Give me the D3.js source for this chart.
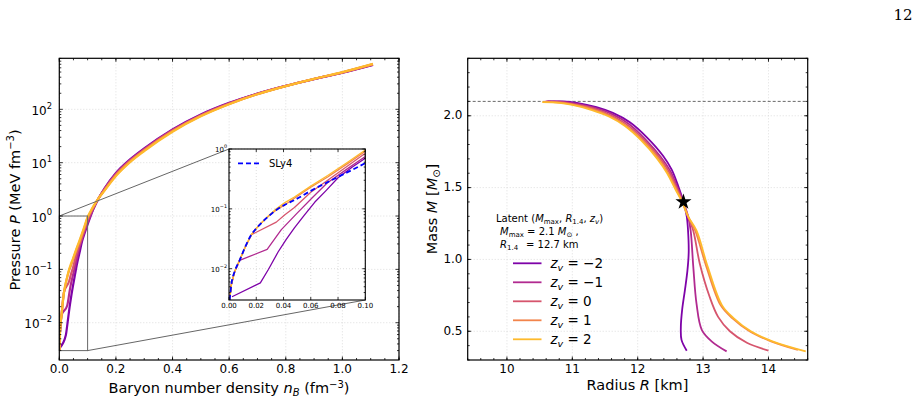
<!DOCTYPE html>
<html>
<head>
<meta charset="utf-8">
<script src="https://cdn.jsdelivr.net/npm/d3@7"></script>
<style>
  html, body { margin: 0; padding: 0; background: #fff; }
  svg { display: block; font-family: "DejaVu Sans", sans-serif; }
  .tick-lab { font-size: 12px; fill: #000; }
  .ax-lab { font-size: 14.5px; fill: #000; }
  .in-lab { font-size: 7px; fill: #000; }
</style>
</head>
<body>
<svg id="chart" width="921" height="402"></svg>
<script>
// ---- data ----
const zValues = [-2, -1, 0, 1, 2];
const plasmaStops = [0.25, 0.4, 0.55, 0.7, 0.85];

// SLy4 crust (inset reference), [n_B, P]
const sly4 = [[0.0005, 0.003], [0.0017, 0.0054], [0.0042, 0.009], [0.0078, 0.0138], [0.0115, 0.022],
  [0.0164, 0.037], [0.02, 0.047], [0.0237, 0.058], [0.029, 0.075], [0.0347, 0.096], [0.041, 0.117],
  [0.048, 0.14], [0.06, 0.2], [0.0724, 0.28], [0.087, 0.41], [0.1, 0.58]];

// EOS curves P(n_B) per z_v
const eosZm2 = [[0.0022, 0.0034], [0.023, 0.0058], [0.029, 0.0098], [0.036, 0.019], [0.042, 0.031],
  [0.048, 0.048], [0.055, 0.077], [0.063, 0.13], [0.071, 0.2], [0.08, 0.33], [0.09, 0.49], [0.1, 0.70],
  [0.11, 0.98], [0.12, 1.33], [0.14, 2.2], [0.16, 3.3], [0.2, 6.4], [0.25, 11.5], [0.3, 18.5], [0.4, 42],
  [0.5, 80], [0.6, 132], [0.7, 197], [0.8, 275], [0.9, 368], [1.0, 485], [1.108, 680]];
const eosZm1 = sly4.filter(d => d[0] <= 0.0078).concat([[0.028, 0.021], [0.0384, 0.045], [0.05, 0.085],
  [0.0607, 0.15], [0.072, 0.27], [0.087, 0.47], [0.1, 0.75], [0.11, 1.02], [0.12, 1.36], [0.14, 2.2],
  [0.16, 3.25], [0.2, 6.2], [0.25, 11.2], [0.3, 18], [0.4, 41], [0.5, 78.5], [0.6, 130], [0.7, 196],
  [0.8, 275], [0.9, 370], [1.0, 488], [1.108, 688]]);
const eosZ0 = sly4.filter(d => d[0] <= 0.0164).concat([[0.0347, 0.06], [0.041, 0.08], [0.048, 0.105],
  [0.06, 0.19], [0.0724, 0.30], [0.087, 0.52], [0.1, 0.85], [0.11, 1.12], [0.12, 1.42], [0.14, 2.2],
  [0.16, 3.15], [0.2, 6.0], [0.25, 10.9], [0.3, 17.5], [0.4, 40], [0.5, 77], [0.6, 128], [0.7, 195],
  [0.8, 274], [0.9, 371], [1.0, 491], [1.108, 695]]);
const eosZ1 = sly4.filter(d => d[0] <= 0.0347).concat([[0.04, 0.113], [0.048, 0.15], [0.06, 0.23],
  [0.0724, 0.34], [0.087, 0.57], [0.1, 0.92], [0.11, 1.18], [0.12, 1.48], [0.14, 2.2], [0.16, 3.05],
  [0.2, 5.8], [0.25, 10.5], [0.3, 17], [0.4, 39], [0.5, 75.5], [0.6, 126], [0.7, 193], [0.8, 273],
  [0.9, 372], [1.0, 494], [1.108, 702]]);
const eosZ2 = sly4.filter(d => d[0] <= 0.0237).concat([[0.029, 0.077], [0.0347, 0.1], [0.041, 0.127],
  [0.048, 0.158], [0.06, 0.24], [0.0724, 0.36], [0.087, 0.6], [0.1, 0.96], [0.11, 1.22], [0.12, 1.52],
  [0.14, 2.2], [0.16, 3.0], [0.2, 5.6], [0.25, 10.2], [0.3, 16.5], [0.4, 38], [0.5, 74], [0.6, 125],
  [0.7, 192], [0.8, 273], [0.9, 373], [1.0, 497], [1.108, 710]]);
const eosCurves = [eosZm2, eosZm1, eosZ0, eosZ1, eosZ2];

// mass-radius curves [R km, M Msun] per z_v
const mrZm2 = [[10.62, 2.10], [10.85, 2.10], [11.07, 2.09], [11.37, 2.06], [11.62, 2.02], [11.88, 1.955],
  [12.14, 1.85], [12.39, 1.72], [12.52, 1.625], [12.62, 1.51], [12.70, 1.40], [12.75, 1.30], [12.77, 1.20],
  [12.78, 1.05], [12.76, 0.92], [12.72, 0.78], [12.68, 0.65], [12.66, 0.53], [12.67, 0.44], [12.75, 0.365]];
const mrZm1 = [[10.60, 2.10], [10.83, 2.098], [11.05, 2.085], [11.35, 2.055], [11.60, 2.013], [11.86, 1.945],
  [12.11, 1.84], [12.36, 1.71], [12.50, 1.615], [12.61, 1.50], [12.70, 1.40], [12.77, 1.30], [12.81, 1.20],
  [12.85, 0.95], [12.90, 0.69], [12.98, 0.51], [13.13, 0.43], [13.36, 0.36]];
const mrZ0 = [[10.58, 2.098], [10.82, 2.095], [11.03, 2.08], [11.33, 2.05], [11.58, 2.005], [11.83, 1.94],
  [12.09, 1.835], [12.34, 1.705], [12.48, 1.61], [12.60, 1.495], [12.69, 1.40], [12.77, 1.30], [12.85, 1.20],
  [12.95, 0.97], [13.10, 0.74], [13.23, 0.60], [13.41, 0.50], [13.67, 0.42], [14.0, 0.365]];
const mrZ1 = [[10.56, 2.096], [10.81, 2.092], [11.02, 2.077], [11.31, 2.045], [11.57, 2.0], [11.81, 1.935],
  [12.07, 1.832], [12.32, 1.702], [12.46, 1.605], [12.59, 1.49], [12.68, 1.40], [12.77, 1.30], [12.88, 1.20],
  [13.05, 0.95], [13.27, 0.68], [13.45, 0.59], [13.71, 0.50], [14.04, 0.43], [14.45, 0.37]];
const mrZ2 = [[10.54, 2.095], [10.80, 2.09], [11.0, 2.075], [11.30, 2.04], [11.56, 1.995], [11.80, 1.93],
  [12.05, 1.83], [12.30, 1.70], [12.45, 1.60], [12.58, 1.485], [12.68, 1.40], [12.77, 1.30], [12.90, 1.20],
  [13.07, 0.95], [13.29, 0.68], [13.47, 0.59], [13.73, 0.50], [14.06, 0.43], [14.57, 0.36]];
const mrCurves = [mrZm2, mrZm1, mrZ0, mrZ1, mrZ2];

const mMax = 2.1;
const star = [12.7, 1.4];

const nTicks = [0, 0.2, 0.4, 0.6, 0.8, 1.0, 1.2];
const pDecades = [-2, -1, 0, 1, 2];
const insetNTicks = [0, 0.02, 0.04, 0.06, 0.08, 0.10];
const insetDecades = [-2, -1, 0];
const rTicks = [10, 11, 12, 13, 14];
const mTicks = [0.5, 1.0, 1.5, 2.0];

const colors = plasmaStops.map(t => d3.interpolatePlasma(t));

// ---- layout ----
const svg = d3.select("#chart");
const L = { x0: 59.3, x1: 399, y0: 58.3, y1: 360 };
const IN = { x0: 229, x1: 365.3, y0: 149, y1: 300 };
const R = { x0: 467.7, x1: 807.7, y0: 58.3, y1: 360 };

const gridStyle = s => s.attr("stroke", "#d6d6d6").attr("stroke-width", 0.8).attr("stroke-dasharray", "1,2");

function ticksIn(g, box, xs, ys, len) {
  xs.forEach(x => {
    g.append("line").attr("x1", x).attr("x2", x).attr("y1", box.y1).attr("y2", box.y1 - len);
    g.append("line").attr("x1", x).attr("x2", x).attr("y1", box.y0).attr("y2", box.y0 + len);
  });
  ys.forEach(y => {
    g.append("line").attr("y1", y).attr("y2", y).attr("x1", box.x0).attr("x2", box.x0 + len);
    g.append("line").attr("y1", y).attr("y2", y).attr("x1", box.x1).attr("x2", box.x1 - len);
  });
  g.selectAll("line").attr("stroke", "#000").attr("stroke-width", 0.8);
}

function powLabel(g, x, y, exp, size, cls) {
  const t = g.append("text").attr("class", cls).attr("x", x).attr("y", y)
    .attr("text-anchor", "end").attr("dominant-baseline", "middle");
  t.append("tspan").text("10");
  t.append("tspan").attr("dy", -size * 0.42).style("font-size", (size * 0.7) + "px")
    .text(exp < 0 ? "\u2212" + (-exp) : exp);
}

function clip(id, box) {
  svg.append("clipPath").attr("id", id).append("rect")
    .attr("x", box.x0).attr("y", box.y0).attr("width", box.x1 - box.x0).attr("height", box.y1 - box.y0);
}
clip("clipL", L); clip("clipIn", IN); clip("clipR", R);

// ================= left panel: EOS =================
const xL = d3.scaleLinear().domain([0, 1.2]).range([L.x0, L.x1]);
const yL = d3.scaleLog().domain([0.002, 905]).range([L.y1, L.y0]);
const gL = svg.append("g");

nTicks.forEach(v => gL.append("line").call(gridStyle)
  .attr("x1", xL(v)).attr("x2", xL(v)).attr("y1", L.y0).attr("y2", L.y1));
pDecades.forEach(e => gL.append("line").call(gridStyle)
  .attr("x1", L.x0).attr("x2", L.x1).attr("y1", yL(10 ** e)).attr("y2", yL(10 ** e)));

const lineL = d3.line().x(d => xL(d[0])).y(d => yL(d[1])).curve(d3.curveMonotoneX);
eosCurves.forEach((c, i) => gL.append("path").attr("d", lineL(c)).attr("clip-path", "url(#clipL)")
  .attr("fill", "none").attr("stroke", colors[i]).attr("stroke-width", 2.2).attr("stroke-linejoin", "round"));

// zoom box + connectors
const zb = { x0: xL(0), x1: xL(0.1), y0: yL(1), y1: yL(0.003) };
gL.append("rect").attr("x", zb.x0).attr("y", zb.y0).attr("width", zb.x1 - zb.x0).attr("height", zb.y1 - zb.y0)
  .attr("fill", "none").attr("stroke", "#666").attr("stroke-width", 1);
gL.append("line").attr("x1", zb.x0).attr("y1", zb.y0).attr("x2", IN.x0).attr("y2", IN.y0)
  .attr("stroke", "#666").attr("stroke-width", 1);
gL.append("line").attr("x1", zb.x1).attr("y1", zb.y1).attr("x2", IN.x1).attr("y2", IN.y1)
  .attr("stroke", "#666").attr("stroke-width", 1);

// ticks
const minorN = d3.range(0, 1.2001, 0.05).map(xL);
const minorP = [];
for (let e = -3; e <= 2; e++) for (let k = 2; k <= 9; k++) {
  const v = k * 10 ** e;
  if (v > 0.002 && v < 905) minorP.push(yL(v));
}
const gLt = gL.append("g");
ticksIn(gLt.append("g"), L, nTicks.map(xL), pDecades.map(e => yL(10 ** e)), 3.5);
ticksIn(gLt.append("g"), L, minorN, minorP, 2);
gL.append("rect").attr("x", L.x0).attr("y", L.y0).attr("width", L.x1 - L.x0).attr("height", L.y1 - L.y0)
  .attr("fill", "none").attr("stroke", "#000").attr("stroke-width", 1.2);

nTicks.forEach(v => gL.append("text").attr("class", "tick-lab").attr("x", xL(v)).attr("y", 369.5)
  .attr("text-anchor", "middle").attr("dominant-baseline", "middle").text(v.toFixed(1)));
pDecades.forEach(e => powLabel(gL, 52, yL(10 ** e) + 1.5, e, 12, "tick-lab"));

const xlabL = gL.append("text").attr("class", "ax-lab").attr("x", 229).attr("y", 393).attr("text-anchor", "middle");
xlabL.append("tspan").text("Baryon number density ");
xlabL.append("tspan").style("font-style", "italic").text("n");
xlabL.append("tspan").attr("dy", 3).style("font-size", "10px").style("font-style", "italic").text("B");
xlabL.append("tspan").attr("dy", -3).text(" (fm");
xlabL.append("tspan").attr("dy", -5).style("font-size", "10px").text("\u22123");
xlabL.append("tspan").attr("dy", 5).text(")");

const ylabL = gL.append("text").attr("class", "ax-lab").attr("transform", "translate(20,210) rotate(-90)")
  .attr("text-anchor", "middle");
ylabL.append("tspan").text("Pressure ");
ylabL.append("tspan").style("font-style", "italic").text("P");
ylabL.append("tspan").text(" (MeV fm");
ylabL.append("tspan").attr("dy", -6).style("font-size", "10px").text("\u22123");
ylabL.append("tspan").attr("dy", 6).text(")");

// ---- inset ----
const xI = d3.scaleLinear().domain([0, 0.1]).range([IN.x0, IN.x1]);
const yI = d3.scaleLog().domain([0.003, 1]).range([IN.y1, IN.y0]);
const gI = svg.append("g");
gI.append("rect").attr("x", IN.x0).attr("y", IN.y0).attr("width", IN.x1 - IN.x0).attr("height", IN.y1 - IN.y0)
  .attr("fill", "#fff");
insetNTicks.forEach(v => gI.append("line").call(gridStyle)
  .attr("x1", xI(v)).attr("x2", xI(v)).attr("y1", IN.y0).attr("y2", IN.y1));
insetDecades.forEach(e => gI.append("line").call(gridStyle)
  .attr("x1", IN.x0).attr("x2", IN.x1).attr("y1", yI(10 ** e)).attr("y2", yI(10 ** e)));

const lineI = d3.line().x(d => xI(d[0])).y(d => yI(d[1]));
eosCurves.forEach((c, i) => gI.append("path").attr("d", lineI(c)).attr("clip-path", "url(#clipIn)")
  .attr("fill", "none").attr("stroke", colors[i]).attr("stroke-width", 1.3).attr("stroke-linejoin", "round"));
gI.append("path").attr("d", lineI.curve(d3.curveMonotoneX)(sly4)).attr("clip-path", "url(#clipIn)")
  .attr("fill", "none").attr("stroke", "#0000ff").attr("stroke-width", 1.8).attr("stroke-dasharray", "5,3");

const minorI = [];
for (let e = -3; e <= 0; e++) for (let k = 2; k <= 9; k++) {
  const v = k * 10 ** e;
  if (v > 0.003 && v < 1) minorI.push(yI(v));
}
ticksIn(gI.append("g"), IN, insetNTicks.map(xI), insetDecades.map(e => yI(10 ** e)), 3);
ticksIn(gI.append("g"), IN, [], minorI, 1.6);
gI.append("rect").attr("x", IN.x0).attr("y", IN.y0).attr("width", IN.x1 - IN.x0).attr("height", IN.y1 - IN.y0)
  .attr("fill", "none").attr("stroke", "#000").attr("stroke-width", 1.1);
insetNTicks.forEach(v => gI.append("text").attr("class", "in-lab").attr("x", xI(v)).attr("y", 306)
  .attr("text-anchor", "middle").attr("dominant-baseline", "middle").text(v.toFixed(2)));
insetDecades.forEach(e => powLabel(gI, 227, yI(10 ** e) + 1, e, 7, "in-lab"));

gI.append("line").attr("x1", 238).attr("x2", 262).attr("y1", 163.3).attr("y2", 163.3)
  .attr("stroke", "#0000ff").attr("stroke-width", 1.8).attr("stroke-dasharray", "5,3");
gI.append("text").attr("x", 269).attr("y", 163.5).attr("dominant-baseline", "middle")
  .style("font-size", "10px").text("SLy4");

// ================= right panel: M-R =================
const xR = d3.scaleLinear().domain([9.4, 14.6]).range([R.x0, R.x1]);
const yR = d3.scaleLinear().domain([0.3, 2.4]).range([R.y1, R.y0]);
const gR = svg.append("g");

rTicks.forEach(v => gR.append("line").call(gridStyle)
  .attr("x1", xR(v)).attr("x2", xR(v)).attr("y1", R.y0).attr("y2", R.y1));
mTicks.forEach(v => gR.append("line").call(gridStyle)
  .attr("x1", R.x0).attr("x2", R.x1).attr("y1", yR(v)).attr("y2", yR(v)));

gR.append("line").attr("x1", R.x0).attr("x2", R.x1).attr("y1", yR(mMax)).attr("y2", yR(mMax))
  .attr("stroke", "#444").attr("stroke-width", 0.8).attr("stroke-dasharray", "3,2");

const lineR = d3.line().x(d => xR(d[0])).y(d => yR(d[1])).curve(d3.curveCatmullRom.alpha(0.5));
mrCurves.forEach((c, i) => gR.append("path").attr("d", lineR(c)).attr("clip-path", "url(#clipR)")
  .attr("fill", "none").attr("stroke", colors[i]).attr("stroke-width", 1.8).attr("stroke-linejoin", "round"));

gR.append("path").attr("d", d3.symbol(d3.symbolStar, 80)())
  .attr("transform", `translate(${xR(star[0])},${yR(star[1])})`).attr("fill", "#000");

const minorR = d3.range(9.4, 14.61, 0.2).map(xR);
const minorM = d3.range(0.3, 2.401, 0.1).map(yR);
ticksIn(gR.append("g"), R, rTicks.map(xR), mTicks.map(yR), 3.5);
ticksIn(gR.append("g"), R, minorR, minorM, 2);
gR.append("rect").attr("x", R.x0).attr("y", R.y0).attr("width", R.x1 - R.x0).attr("height", R.y1 - R.y0)
  .attr("fill", "none").attr("stroke", "#000").attr("stroke-width", 1.2);

rTicks.forEach(v => gR.append("text").attr("class", "tick-lab").attr("x", xR(v)).attr("y", 369.5)
  .attr("text-anchor", "middle").attr("dominant-baseline", "middle").text(v));
mTicks.forEach(v => gR.append("text").attr("class", "tick-lab").attr("x", 462.5).attr("y", yR(v))
  .attr("text-anchor", "end").attr("dominant-baseline", "middle").text(v.toFixed(1)));

const xlabR = gR.append("text").attr("class", "ax-lab").attr("x", 637.5).attr("y", 389.5).attr("text-anchor", "middle");
xlabR.append("tspan").text("Radius ");
xlabR.append("tspan").style("font-style", "italic").text("R");
xlabR.append("tspan").text(" [km]");

const ylabR = gR.append("text").attr("class", "ax-lab").attr("transform", "translate(437,209) rotate(-90)")
  .attr("text-anchor", "middle");
ylabR.append("tspan").text("Mass ");
ylabR.append("tspan").style("font-style", "italic").text("M");
ylabR.append("tspan").text(" [");
ylabR.append("tspan").style("font-style", "italic").text("M");
ylabR.append("tspan").attr("dy", 3).style("font-size", "10px").text("\u2299");
ylabR.append("tspan").attr("dy", -3).text("]");

// legend
const lg = gR.append("g").style("font-size", "10px");
const t1 = lg.append("text").attr("x", 496).attr("y", 222);
t1.append("tspan").text("Latent (");
t1.append("tspan").style("font-style", "italic").text("M");
t1.append("tspan").attr("dy", 2).style("font-size", "7px").text("max");
t1.append("tspan").attr("dy", -2).text(", ");
t1.append("tspan").style("font-style", "italic").text("R");
t1.append("tspan").attr("dy", 2).style("font-size", "7px").text("1.4");
t1.append("tspan").attr("dy", -2).text(", ");
t1.append("tspan").style("font-style", "italic").text("z");
t1.append("tspan").attr("dy", 2).style("font-size", "7px").style("font-style", "italic").text("v");
t1.append("tspan").attr("dy", -2).text(")");
const t2 = lg.append("text").attr("x", 500).attr("y", 235);
t2.append("tspan").style("font-style", "italic").text("M");
t2.append("tspan").attr("dy", 2).style("font-size", "7px").text("max");
t2.append("tspan").attr("dy", -2).text(" = " + mMax + " ");
t2.append("tspan").style("font-style", "italic").text("M");
t2.append("tspan").attr("dy", 2).style("font-size", "7px").text("\u2299");
t2.append("tspan").attr("dy", -2).text(" ,");
const t3 = lg.append("text").attr("x", 500).attr("y", 248);
t3.append("tspan").style("font-style", "italic").text("R");
t3.append("tspan").attr("dy", 2).style("font-size", "7px").text("1.4");
t3.append("tspan").attr("dy", -2).attr("x", 526).text("= " + star[0] + " km");

zValues.forEach((z, i) => {
  const y = 263.3 + i * 19;
  lg.append("line").attr("x1", 513).attr("x2", 541.5).attr("y1", y).attr("y2", y)
    .attr("stroke", colors[i]).attr("stroke-width", 1.8);
  const t = lg.append("text").attr("x", 550.5).attr("y", y + 4.5).style("font-size", "13.5px");
  t.append("tspan").style("font-style", "italic").text("z");
  t.append("tspan").attr("dy", 3).style("font-size", "9.5px").style("font-style", "italic").text("v");
  t.append("tspan").attr("dy", -3).text(" = " + (z < 0 ? "\u2212" + (-z) : z));
});

// page number
svg.append("text").attr("x", 903).attr("y", 20).attr("text-anchor", "middle")
  .style("font-family", "'DejaVu Serif', serif").style("font-size", "15px").text("12");
</script>
</body>
</html>
